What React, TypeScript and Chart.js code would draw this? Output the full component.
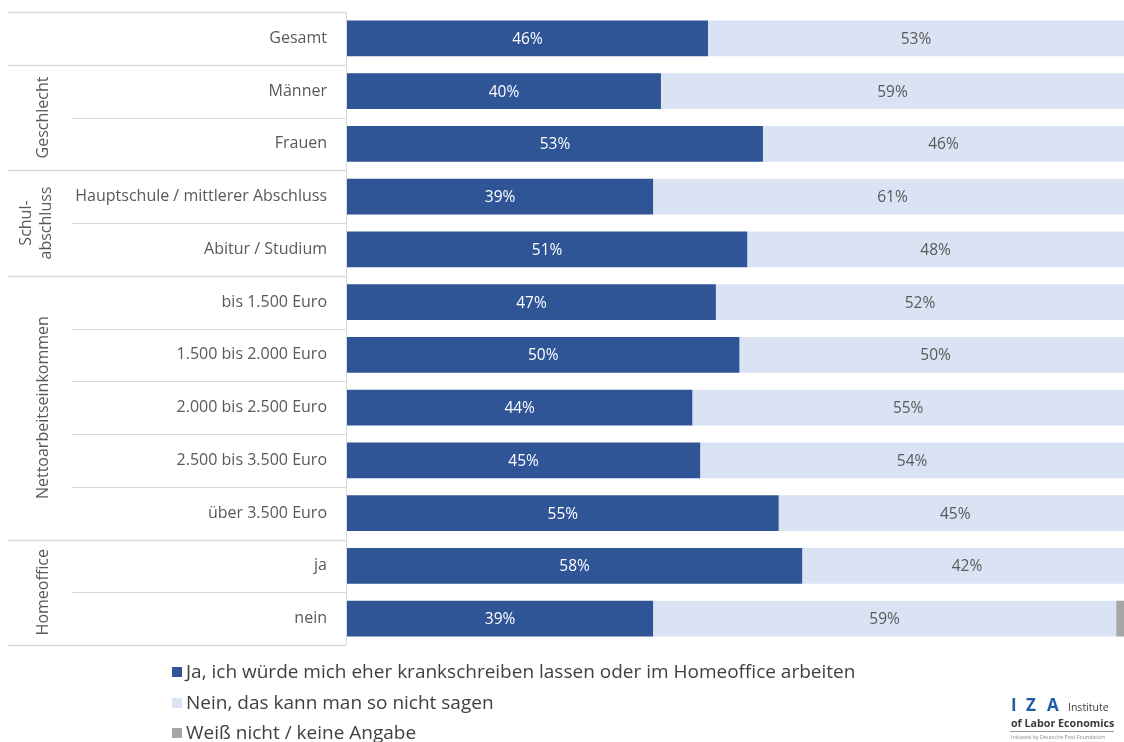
import React, { useEffect, useRef } from "react";
import { Chart, registerables } from "chart.js";

Chart.register(...registerables);

const categories = [
  "Gesamt",
  "Männer",
  "Frauen",
  "Hauptschule / mittlerer Abschluss",
  "Abitur / Studium",
  "bis 1.500 Euro",
  "1.500 bis 2.000 Euro",
  "2.000 bis 2.500 Euro",
  "2.500 bis 3.500 Euro",
  "über 3.500 Euro",
  "ja",
  "nein",
];
const jaValues = [46, 40, 53, 39, 51, 47, 50, 44, 45, 55, 58, 39];
const neinValues = [53, 59, 46, 61, 48, 52, 50, 55, 54, 45, 42, 59];
const weissNichtValues = [1, 1, 1, 0, 1, 1, 0, 1, 1, 0, 0, 2];
const seriesNames = [
  "Ja, ich würde mich eher krankschreiben lassen oder im Homeoffice arbeiten",
  "Nein, das kann man so nicht sagen",
  "Weiß nicht / keine Angabe",
];
const seriesColors = ["#2f5597", "#dae3f3", "#a6a6a6"];
const groupLabels = [[], ["Geschlecht"], ["Schul-", "abschluss"], ["Nettoarbeitseinkommen"], ["Homeoffice"]];
const groupStarts = [0, 1, 3, 5, 10];
const groupEnds = [0, 2, 4, 9, 11];

const FONT = "'Open Sans', 'Noto Sans', sans-serif";
const TEXT = "#595959";
const LINE = "#d9d9d9";

const decorPlugin = {
  id: "decor",
  afterDatasetsDraw(chart: any) {
    const ctx = chart.ctx;
    ctx.save();
    ctx.font = `15.5px ${FONT}`;
    ctx.textAlign = "center";
    ctx.textBaseline = "middle";
    [0, 1].forEach((di) => {
      const meta = chart.getDatasetMeta(di);
      const data = chart.data.datasets[di].data as number[];
      meta.data.forEach((el: any, i: number) => {
        if (!data[i]) return;
        const cx = (el.x + el.base) / 2;
        ctx.fillStyle = di === 0 ? "#ffffff" : TEXT;
        ctx.fillText(`${data[i]}%`, cx, el.y + 1);
      });
    });
    ctx.restore();
  },
  afterDraw(chart: any) {
    const ctx = chart.ctx;
    const y = chart.scales.y;
    const n = categories.length;
    const top = chart.chartArea.top;
    const bottom = chart.chartArea.bottom;
    const rowH = (bottom - top) / n;
    const axisX = chart.chartArea.left - 1;
    ctx.save();
    const groupBounds = new Set<number>();
    groupStarts.forEach((s) => groupBounds.add(s));
    groupBounds.add(n);
    for (let k = 0; k <= n; k++) {
      const py = Math.round(top + k * rowH) + 0.5;
      const isGroup = groupBounds.has(k);
      ctx.strokeStyle = LINE;
      ctx.lineWidth = isGroup ? 1.5 : 1;
      ctx.beginPath();
      ctx.moveTo(isGroup ? 8 : 72, py);
      ctx.lineTo(axisX, py);
      ctx.stroke();
    }
    ctx.lineWidth = 1;
    ctx.beginPath();
    ctx.moveTo(axisX + 0.5, top);
    ctx.lineTo(axisX + 0.5, bottom);
    ctx.stroke();

    ctx.fillStyle = TEXT;
    ctx.font = `16px ${FONT}`;
    ctx.textAlign = "center";
    ctx.textBaseline = "middle";
    groupLabels.forEach((lines, gi) => {
      if (!lines.length) return;
      const cy =
        (y.getPixelForValue(groupStarts[gi]) + y.getPixelForValue(groupEnds[gi])) / 2;
      const lh = 20;
      const center = lines.length > 1 ? 36 : 43;
      lines.forEach((line, li) => {
        const cx = center - ((lines.length - 1) * lh) / 2 + li * lh;
        ctx.save();
        ctx.translate(cx, cy);
        ctx.rotate(-Math.PI / 2);
        ctx.fillText(line, 0, 0);
        ctx.restore();
      });
    });

    const legendY = [672, 703, 733];
    ctx.font = `19px ${FONT}`;
    ctx.textAlign = "left";
    ctx.textBaseline = "middle";
    seriesNames.forEach((name, i) => {
      ctx.fillStyle = seriesColors[i];
      ctx.fillRect(172, legendY[i] - 5, 10, 10);
      ctx.fillStyle = "#404040";
      ctx.fillText(name, 186, legendY[i] + 1);
    });

    ctx.textBaseline = "alphabetic";
    ctx.fillStyle = "#1f5ca6";
    ctx.font = `bold 17px ${FONT}`;
    ctx.fillText("I", 1011, 711);
    ctx.fillText("Z", 1026, 711);
    ctx.fillText("A", 1047, 711);
    ctx.fillStyle = "#3a3a3a";
    ctx.font = `10.5px ${FONT}`;
    ctx.fillText("Institute", 1068, 711);
    ctx.font = `bold 10.7px ${FONT}`;
    ctx.fillText("of Labor Economics", 1011, 727);
    ctx.strokeStyle = "#9a9a9a";
    ctx.lineWidth = 1;
    ctx.beginPath();
    ctx.moveTo(1010, 731.5);
    ctx.lineTo(1114, 731.5);
    ctx.stroke();
    ctx.fillStyle = "#8a8a8a";
    ctx.font = `5.3px ${FONT}`;
    ctx.fillText("Initiated by Deutsche Post Foundation", 1011, 739);
    ctx.restore();
  },
};

export default function App() {
  const canvasRef = useRef<HTMLCanvasElement | null>(null);

  useEffect(() => {
    if (!canvasRef.current) return;
    const chart = new Chart(canvasRef.current, {
      type: "bar",
      data: {
        labels: categories,
        datasets: [
          { label: seriesNames[0], data: jaValues, backgroundColor: seriesColors[0] },
          { label: seriesNames[1], data: neinValues, backgroundColor: seriesColors[1] },
          { label: seriesNames[2], data: weissNichtValues, backgroundColor: seriesColors[2] },
        ],
      },
      options: {
        indexAxis: "y",
        responsive: false,
        animation: false,
        maintainAspectRatio: false,
        layout: { padding: { top: 12, bottom: 97, left: 0, right: 0 } },
        datasets: { bar: { categoryPercentage: 1, barPercentage: 0.68 } },
        plugins: { legend: { display: false }, tooltip: { enabled: false } },
        scales: {
          x: { stacked: true, display: false, min: 0, max: 99 },
          y: {
            stacked: true,
            grid: { display: false },
            border: { display: false },
            ticks: {
              color: TEXT,
              font: { family: FONT, size: 16 },
              padding: 12,
            },
            afterFit(scale: any) {
              scale.width = 347;
              scale.paddingTop = 0;
              scale.paddingBottom = 0;
            },
          },
        },
      },
      plugins: [decorPlugin],
    } as any);
    return () => chart.destroy();
  }, []);

  return (
    <div style={{ position: "absolute", left: 0, top: 0, width: 1124, height: 742, background: "#fff" }}>
      <canvas ref={canvasRef} width={1124} height={742} style={{ display: "block" }} />
    </div>
  );
}
